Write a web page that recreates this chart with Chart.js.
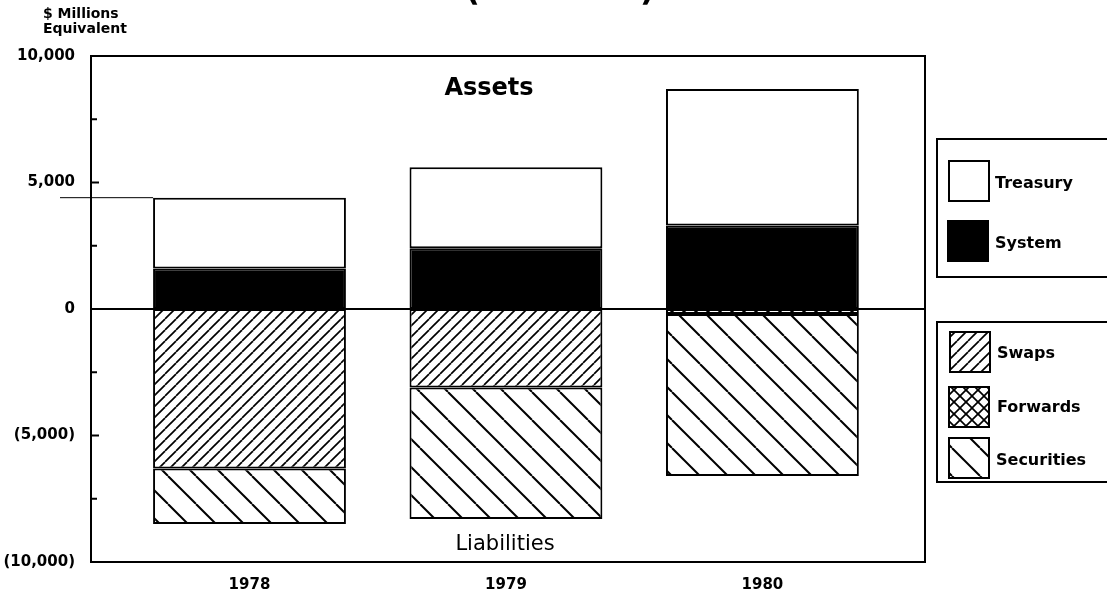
<!DOCTYPE html>
<html>
<head>
<meta charset="utf-8">
<script src="https://cdn.jsdelivr.net/npm/chart.js@4.4.1/dist/chart.umd.min.js"></script>
<style>
  html, body { margin: 0; padding: 0; background: #fff; }
  canvas { display: block; }
</style>
</head>
<body>
<canvas id="c" width="1107" height="597"></canvas>
<script>
// values ($ millions, year-end)
const years = [1978, 1979, 1980];
const system = [1600, 2400, 3300];
const treasury = [2800, 3200, 5400];
const swaps = [-6300, -3100, null];
const forwards = [null, null, -200];
const securities = [-2200, -5200, -6400];
const yTicks = [-10000, -5000, 0, 5000, 10000];

const canvas = document.getElementById('c');
const ctx = canvas.getContext('2d');

// hatch fills like the printed chart
function hatch(size, dirs, lw) {
  const t = document.createElement('canvas');
  t.width = size; t.height = size;
  const g = t.getContext('2d');
  g.fillStyle = '#fff';
  g.fillRect(0, 0, size, size);
  g.strokeStyle = '#000';
  g.lineWidth = lw;
  dirs.forEach(d => {
    for (let k = -1; k <= 1; k++) {
      g.beginPath();
      if (d == '/') { g.moveTo(k*size, size); g.lineTo(k*size + size, 0); }
      else { g.moveTo(k*size, 0); g.lineTo(k*size + size, size); }
      g.stroke();
    }
  });
  return ctx.createPattern(t, 'repeat');
}
const swapFill = hatch(11, ['/'], 1.7);
const fwdFill = hatch(12, ['/', '\\'], 1.7);
const secFill = hatch(28, ['\\'], 2);

function pts(arr) { return years.map((y, i) => ({ x: y, y: arr[i] })); }

function fmt(v) {
  const s = Math.abs(v).toLocaleString('en-US');
  return v < 0 ? '(' + s + ')' : s;
}

const bold = (s) => ({ family: 'DejaVu Sans', size: s, weight: 'bold' });

const extras = {
  id: 'extras',
  afterDraw(chart) {
    const g = chart.ctx;
    const a = chart.chartArea;
    const ys = chart.scales.y;
    g.save();
    g.strokeStyle = '#000';
    g.fillStyle = '#000';

    // frame
    g.lineWidth = 2;
    g.strokeRect(a.left, a.top, a.right - a.left, a.bottom - a.top);

    // zero line
    const y0 = ys.getPixelForValue(0);
    g.beginPath(); g.moveTo(a.left, y0); g.lineTo(a.right, y0); g.stroke();

    // inner tick marks every 2,500
    for (let v = -7500; v <= 7500; v += 2500) {
      if (v == 0) continue;
      const py = ys.getPixelForValue(v);
      g.beginPath(); g.moveTo(a.left, py); g.lineTo(a.left + (v % 5000 == 0 ? 8 : 6), py); g.stroke();
    }

    // thin leader line at top of the 1978 bar
    const bar0 = chart.getDatasetMeta(1).data[0];
    const yTop = ys.getPixelForValue(system[0] + treasury[0]);
    g.lineWidth = 1;
    g.beginPath();
    g.moveTo(60, yTop);
    g.lineTo(bar0.x - bar0.width / 2, yTop);
    g.stroke();

    // axis caption
    g.font = 'bold 14px "DejaVu Sans"';
    g.textAlign = 'left';
    g.textBaseline = 'alphabetic';
    g.fillText('$ Millions', 43, 18);
    g.fillText('Equivalent', 43, 33);

    // cut-off heading at the top edge
    g.textAlign = 'center';
    g.font = 'bold 32px "DejaVu Sans"';
    g.fillText('(Year-End)', 560, 0);

    g.font = 'bold 24px "DejaVu Sans"';
    g.fillText('Assets', 489, 95);
    g.font = '21px "DejaVu Sans"';
    g.fillText('Liabilities', 505, 550);

    // legend boxes
    g.lineWidth = 2;
    g.strokeRect(937, 139, 200, 138);
    g.strokeRect(937, 322, 200, 160);
    const items = [
      ['Treasury', '#fff', 949, 161, 995, 188],
      ['System', '#000', 948, 221, 995, 248],
      ['Swaps', swapFill, 950, 332, 997, 358],
      ['Forwards', fwdFill, 949, 387, 997, 412],
      ['Securities', secFill, 949, 438, 996, 465]
    ];
    g.font = 'bold 16px "DejaVu Sans"';
    g.textAlign = 'left';
    items.forEach(it => {
      g.fillStyle = it[1];
      g.fillRect(it[2], it[3], 40, 40);
      g.lineWidth = 2;
      g.strokeRect(it[2], it[3], 40, 40);
      g.fillStyle = '#000';
      g.fillText(it[0], it[4], it[5]);
    });
    g.restore();
  }
};

const common = { borderColor: '#000', borderWidth: 2, borderSkipped: false };

new Chart(canvas, {
  type: 'bar',
  data: {
    datasets: [
      { label: 'System', data: pts(system), backgroundColor: '#000', ...common },
      { label: 'Treasury', data: pts(treasury), backgroundColor: '#fff', ...common },
      { label: 'Swaps', data: pts(swaps), backgroundColor: swapFill, ...common },
      { label: 'Forwards', data: pts(forwards), backgroundColor: fwdFill, ...common },
      { label: 'Securities', data: pts(securities), backgroundColor: secFill, ...common }
    ]
  },
  options: {
    responsive: false,
    animation: false,
    devicePixelRatio: 1,
    barPercentage: 0.752,
    categoryPercentage: 1,
    layout: { padding: { top: 56, right: 182, left: 0, bottom: 0 } },
    plugins: { legend: { display: false }, tooltip: { enabled: false } },
    scales: {
      x: {
        type: 'linear',
        offset: false,
        min: 1977.382,
        max: 1980.634,
        stacked: true,
        grid: { display: false, offset: false },
        border: { display: false },
        afterBuildTicks: s => { s.ticks = years.map(v => ({ value: v })); },
        afterFit: s => { s.height = 35; },
        ticks: { color: '#000', font: bold(15), padding: 6, callback: v => String(v) }
      },
      y: {
        min: -10000,
        max: 10000,
        stacked: true,
        grid: { display: false },
        border: { display: false },
        afterBuildTicks: s => { s.ticks = yTicks.map(v => ({ value: v })); },
        afterFit: s => { s.width = 91; },
        ticks: { color: '#000', font: bold(15), padding: 8, callback: v => fmt(v) }
      }
    }
  },
  plugins: [extras]
});
</script>
</body>
</html>
